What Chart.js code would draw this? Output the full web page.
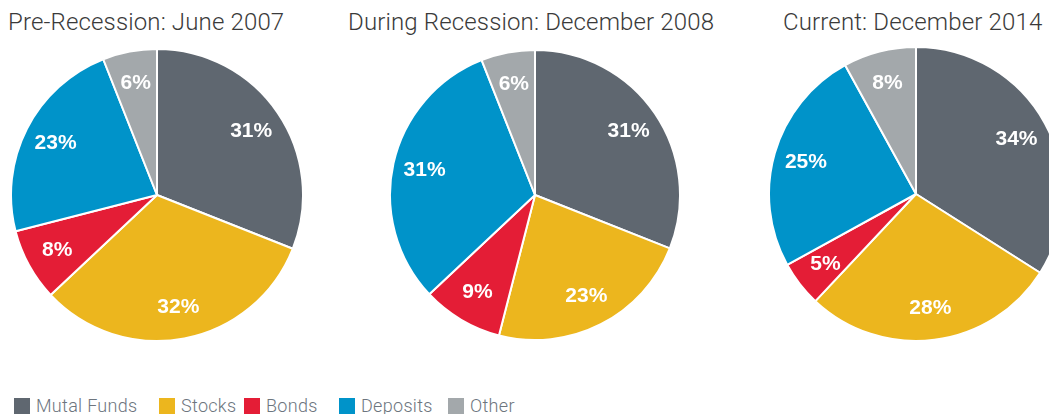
<!DOCTYPE html>
<html>
<head>
<meta charset="utf-8">
<script src="https://cdn.jsdelivr.net/npm/chart.js@4.4.1/dist/chart.umd.min.js"></script>
<style>
  html, body { margin:0; padding:0; background:#fff; }
  body { width:1049px; height:414px; overflow:hidden; position:relative; font-family:Roboto, "Liberation Sans", sans-serif; }
  .title { position:absolute; top:8px; font-size:24px; font-weight:300; color:#3a3a3a; white-space:nowrap; letter-spacing:0.15px; }
  .pie { position:absolute; }
  .legend { position:absolute; left:14px; top:396px; font-size:18px; color:#6d757e; white-space:nowrap; font-weight:300; letter-spacing:0.3px; }
  .item { position:absolute; top:0; height:18px; line-height:18px; }
  .sw { position:absolute; top:2px; width:16px; height:16px; }
  .lt { position:absolute; left:22px; top:1px; }
</style>
</head>
<body>
<div class="title" style="left:8px">Pre-Recession: June 2007</div>
<div class="title" style="left:348px">During Recession: December 2008</div>
<div class="title" style="left:783px">Current: December 2014</div>

<div class="pie" style="left:10px;top:48px"><canvas id="c1" width="294" height="294"></canvas></div>
<div class="pie" style="left:389px;top:49px"><canvas id="c2" width="292" height="292"></canvas></div>
<div class="pie" style="left:768px;top:46px"><canvas id="c3" width="296" height="296"></canvas></div>

<div class="legend" id="legend"></div>

<script>
const categories = ["Mutal Funds", "Stocks", "Bonds", "Deposits", "Other"];
const titles = ["Pre-Recession: June 2007", "During Recession: December 2008", "Current: December 2014"];
const june2007 = [31, 32, 8, 23, 6];
const december2008 = [31, 23, 9, 31, 6];
const december2014 = [34, 28, 5, 25, 8];
const colors = ["#5f6770", "#ecb61e", "#e41d36", "#0093c9", "#a3a8ab"];

const labelPlugin = {
  id: 'pctLabels',
  afterDatasetsDraw(chart) {
    const ctx = chart.ctx;
    const meta = chart.getDatasetMeta(0);
    const data = chart.data.datasets[0].data;
    ctx.save();
    ctx.fillStyle = '#ffffff';
    ctx.font = 'bold 21px "Liberation Sans", Arial, sans-serif';
    ctx.textAlign = 'center';
    ctx.textBaseline = 'middle';
    meta.data.forEach((arc, i) => {
      const mid = (arc.startAngle + arc.endAngle) / 2;
      const r = arc.outerRadius * 0.78;
      const x = arc.x + Math.cos(mid) * r;
      const y = arc.y + Math.sin(mid) * r;
      ctx.fillText(data[i] + '%', x, y);
    });
    ctx.restore();
  }
};

function makePie(id, values) {
  new Chart(document.getElementById(id), {
    type: 'pie',
    data: {
      labels: categories,
      datasets: [{ data: values, backgroundColor: colors, borderColor: '#ffffff', borderWidth: 2 }]
    },
    options: {
      responsive: false,
      animation: false,
      devicePixelRatio: 1,
      layout: { padding: 0 },
      plugins: { legend: { display: false }, tooltip: { enabled: false } }
    },
    plugins: [labelPlugin]
  });
}
makePie('c1', june2007);
makePie('c2', december2008);
makePie('c3', december2014);

const legendX = [0, 145, 230, 325, 434];
const legend = document.getElementById('legend');
categories.forEach((c, i) => {
  const it = document.createElement('div');
  it.className = 'item';
  it.style.left = legendX[i] + 'px';
  it.innerHTML = '<span class="sw" style="background:' + colors[i] + '"></span><span class="lt">' + c + '</span>';
  legend.appendChild(it);
});
</script>
</body>
</html>
